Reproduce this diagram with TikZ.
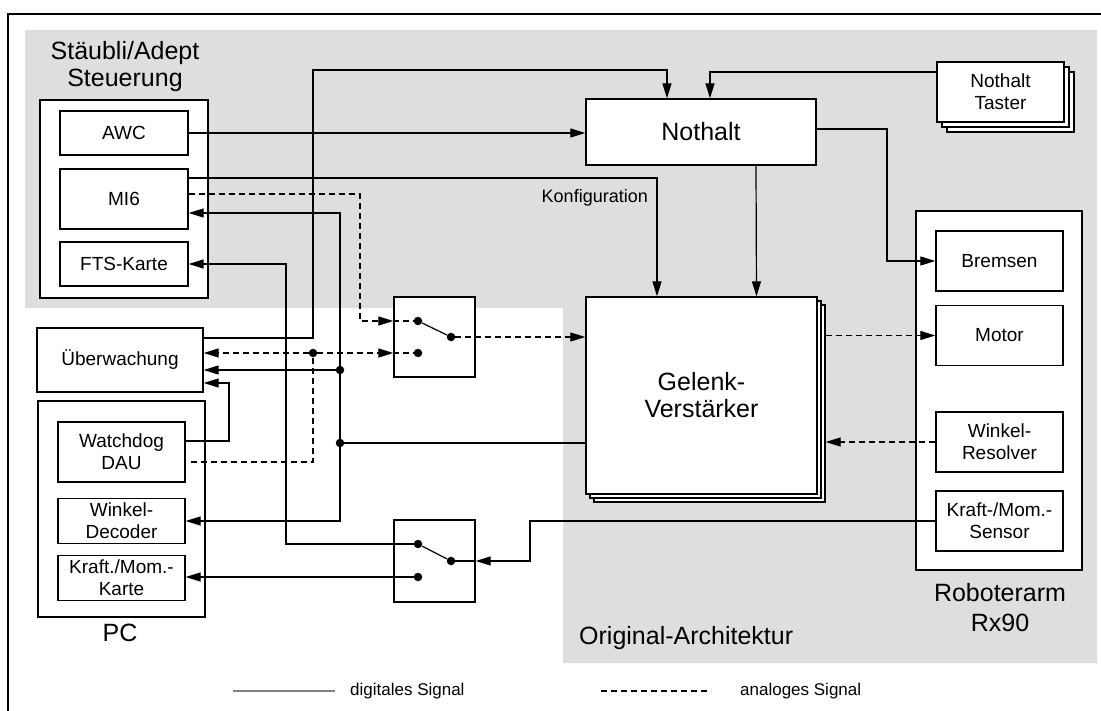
\documentclass[tikz,border=0pt]{standalone}
\usepackage{fontspec}
\setmainfont{Liberation Sans}
\usetikzlibrary{arrows.meta,shadows,calc}
\definecolor{areagrey}{gray}{0.87}
\definecolor{legendgrey}{gray}{0.5}

\begin{document}
\begin{tikzpicture}[x=1pt,y=-1pt,
	bigtxt/.style={font=\fontsize{25}{27}\selectfont},
	smalltxt/.style={font=\fontsize{19}{22}\selectfont},
	legtxt/.style={font=\fontsize{17}{20}\selectfont, inner sep=0pt},
	blk/.style={draw, fill=white, line width=1.3pt, inner sep=0pt, align=center, smalltxt},
	frame/.style={draw, fill=white, line width=1.3pt, inner sep=0pt},
	sig/.style={line width=1.2pt},
	ana/.style={sig, dash pattern=on 6pt off 4pt},
	arr/.style={-{Triangle[length=15pt,width=9pt]}},
	contact/.style={circle, fill, inner sep=0pt, minimum size=8.5pt},
	]
	\useasboundingbox (0,0) rectangle (1101,711);
	
	% Hintergrund und Rahmen
	\fill[areagrey] (25,30) -- (1097,30) -- (1097,663) -- (563,663) -- (563,308) -- (25,308) -- cycle;
	\draw[line width=2.5pt] (8,711) -- (8,14) -- (1101,14);
	
	% Staeubli/Adept Steuerung
	\node[bigtxt, align=center, inner sep=0pt] (stbtitle) at (125,67) {Stäubli/Adept\\Steuerung};
	\node[frame, minimum width=168pt, minimum height=198pt] (stb) at (124,199) {};
	\node[blk, minimum width=128pt, minimum height=44pt] (awc) at (124,133) {AWC};
	\node[blk, minimum width=128pt, minimum height=60pt] (mi6) at (124,199) {MI6};
	\node[blk, minimum width=128pt, minimum height=44pt] (fts) at (124,264) {FTS-Karte};
	
	% PC
	\node[blk, minimum width=166pt, minimum height=64pt] (uebw) at (120,360) {Überwachung};
	\node[frame, minimum width=167pt, minimum height=216pt] (pc) at (121.5,509) {};
	\node[blk, minimum width=127pt, minimum height=60pt] (wdog) at (121.5,452) {Watchdog\\DAU};
	\node[blk, minimum width=127pt, minimum height=45pt] (wdec) at (121.5,521) {Winkel-\\Decoder};
	\node[blk, minimum width=127pt, minimum height=45pt] (kmk) at (121.5,578) {Kraft./Mom.-\\Karte};
	\node[bigtxt, inner sep=0pt] (pclabel) at (120,633) {PC};
	
	% Umschalter
	\node[frame, minimum width=81pt, minimum height=80pt] (sw1) at (434.5,337) {};
	\node[contact] (s1a) at (418,321) {};
	\node[contact] (s1b) at (418,353) {};
	\node[contact] (s1c) at (451,337) {};
	\node[frame, minimum width=81pt, minimum height=82pt] (sw2) at (434.5,561) {};
	\node[contact] (s2a) at (418,544) {};
	\node[contact] (s2b) at (418,577) {};
	\node[contact] (s2c) at (451,561) {};
	
	% Original-Architektur
	\node[blk, bigtxt, minimum width=230pt, minimum height=66pt] (noth) at (701,132) {Nothalt};
	\node[blk, minimum width=127pt, minimum height=60pt,
		copy shadow={shadow xshift=10pt, shadow yshift=-10pt, line width=1.3pt},
		copy shadow={shadow xshift=5pt, shadow yshift=-5pt, line width=1.3pt}] (tast) at (1000.5,92) {Nothalt\\Taster};
	\node[blk, bigtxt, minimum width=231pt, minimum height=197pt,
		copy shadow={shadow xshift=8pt, shadow yshift=-8pt, line width=1.3pt},
		copy shadow={shadow xshift=4pt, shadow yshift=-4pt, line width=1.3pt}] (gel) at (701.5,395.5) {Gelenk-\\Verstärker};
	\node[legtxt, font=\fontsize{18}{20}\selectfont, anchor=east] (konf) at (648,198) {Konfiguration};
	\node[bigtxt, anchor=west, inner sep=0pt] (orig) at (579,638) {Original-Architektur};
	
	% Roboterarm
	\node[frame, minimum width=166pt, minimum height=359pt] (robo) at (999,390.5) {};
	\node[blk, minimum width=127pt, minimum height=60pt] (brem) at (999.5,261) {Bremsen};
	\node[blk, minimum width=127pt, minimum height=60pt] (motor) at (999.5,335.5) {Motor};
	\node[blk, minimum width=127pt, minimum height=60pt] (winres) at (999.5,442) {Winkel-\\Resolver};
	\node[blk, minimum width=127pt, minimum height=60pt] (kms) at (999.5,521) {Kraft-/Mom.-\\Sensor};
	\node[bigtxt, align=center, inner sep=0pt, font=\fontsize{25}{30}\selectfont] (robolabel) at (1000,608) {Roboterarm\\Rx90};
	
	% Hilfspunkte
	\coordinate (konfx) at (657,178);
	\coordinate (mia) at (360,194);
	\coordinate (ftsx) at (286,0);
	\coordinate (kmsx) at (530,0);
	\coordinate (wdup) at (229,383);
	\coordinate (ueup) at (313,70);
	\coordinate (brx) at (887,0);
	\node[contact] (jw1) at (340,370) {};
	\node[contact] (jw2) at (340,443) {};
	\node[contact] (jd) at (313,353) {};
	
	% digitale Signale
	\draw[sig, arr] (awc.east) -- (noth.west |- awc.east);
	\draw[sig, arr] (mi6.east |- konfx) -| (gel.north -| konfx);
	\draw[sig, arr] ($(uebw.east)+(0,-22)$) -| (ueup) -| ($(noth.north)+(-34,0)$);
	\draw[sig, arr] ($(tast.west)+(0,-20)$) -| ($(noth.north)+(9,0)$);
	\draw[sig, arr] ($(noth.south)+(55,0)$) -- ($(gel.north)+(55,0)$);
	\draw[sig, arr] ($(noth.east)+(0,-3)$) -| (brx |- brem) -- (brem.west);
	\draw[sig] (gel.west |- jw2) -- (jw2) -- (jw1);
	\draw[sig, arr] (jw1) |- ($(mi6.east)+(0,14)$);
	\draw[sig, arr] (jw1) -- (uebw.east |- jw1);
	\draw[sig, arr] (jw2) |- (wdec.east);
	\draw[sig, arr] ($(wdog.east)+(0,-11)$) -| (wdup) -- (uebw.east |- wdup);
	\draw[sig, arr] (s2a) -| (ftsx |- fts) -- (fts.east);
	\draw[sig, arr] (s2b) -- (kmk.east |- s2b);
	\draw[sig, arr] (kms.west) -| (kmsx |- s2c) -- (sw2.east |- s2c);
	\draw[sig] (sw2.east |- s2c) -- (s2c);
	\draw[sig] (s1a) -- (s1c);
	\draw[sig] (s2a) -- (s2c);
	
	% analoge Signale
	\draw[ana, arr] (mi6.east |- mia) -| (mia |- s1a) -- (sw1.west |- s1a);
	\draw[ana] (sw1.west |- s1a) -- (s1a);
	\draw[ana] ($(wdog.east)+(5,10)$) -| (jd);
	\draw[ana, arr] (jd) -- (uebw.east |- jd);
	\draw[ana, arr] (jd) -- (sw1.west |- s1b);
	\draw[ana] (sw1.west |- s1b) -- (s1b);
	\draw[ana, arr] (s1c) -- (gel.west |- s1c);
	\draw[ana, arr] ($(gel.east |- motor)+(8,0)$) -- (motor.west);
	\draw[ana, arr] (winres.west) -- ($(gel.east |- winres)+(8,0)$);
	
	% Legende
	\draw[legendgrey, line width=1.2pt] (233,691) -- (335,691);
	\node[legtxt, anchor=west] (digtxt) at (350,691) {digitales Signal};
	\draw[ana] (601,691) -- (711,691);
	\node[legtxt, anchor=west] (anatxt) at (740,691) {analoges Signal};
\end{tikzpicture}
\end{document}
